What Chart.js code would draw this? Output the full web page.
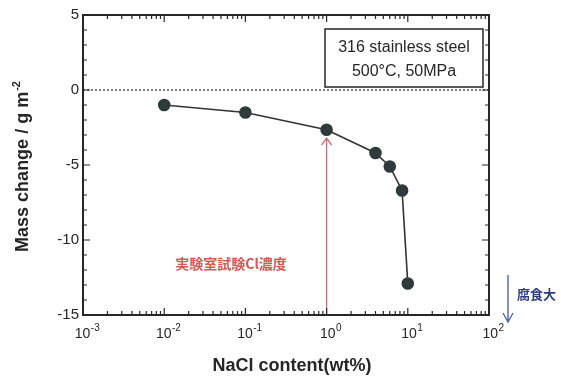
<!DOCTYPE html>
<html>
<head>
<meta charset="utf-8">
<script src="https://cdn.jsdelivr.net/npm/chart.js@4"></script>
<style>
    html, body { margin: 0; padding: 0; background: #fff; }
    #wrap { width: 561px; height: 378px; position: relative; }
</style>
</head>
<body>
<div id="wrap"><canvas id="massChart"></canvas></div>
<script>
// --- Data ---
const naclContent = [0.01, 0.1, 1, 4, 6, 8.5, 10]; // wt%
const massChange = [-1.0, -1.5, -2.65, -4.2, -5.1, -6.7, -12.9]; // g m-2
const yTickValues = [5, 0, -5, -10, -15];
const xTickExponents = [-3, -2, -1, 0, 1, 2];
const labClConc = 1; // wt%, red arrow
const labArrowTop = -3.2;

const SANS = '"Liberation Sans", Arial, sans-serif';
const CJK = '"Noto Sans CJK JP", sans-serif';
const INK = "#262626";

// --- Frame, ticks, labels and notes ---
const decorPlugin = {
    id: "decor",
    beforeDatasetsDraw(chart) {
        const { ctx, chartArea: a, scales: { x, y } } = chart;
        ctx.save();

        // dotted zero line
        ctx.strokeStyle = "#555";
        ctx.lineWidth = 1.5;
        ctx.setLineDash([2, 2]);
        ctx.beginPath();
        ctx.moveTo(a.left, y.getPixelForValue(0));
        ctx.lineTo(a.right, y.getPixelForValue(0));
        ctx.stroke();
        ctx.setLineDash([]);

        // red arrow at lab test Cl concentration
        const ax = x.getPixelForValue(labClConc);
        const atop = y.getPixelForValue(labArrowTop);
        ctx.strokeStyle = "#d26b74";
        ctx.lineWidth = 1.3;
        ctx.beginPath();
        ctx.moveTo(ax, a.bottom);
        ctx.lineTo(ax, atop);
        ctx.moveTo(ax - 5, atop + 7);
        ctx.lineTo(ax, atop);
        ctx.lineTo(ax + 5, atop + 7);
        ctx.stroke();
        ctx.restore();
    },
    afterDraw(chart) {
        const { ctx, chartArea: a, scales: { x, y } } = chart;
        ctx.save();

        // frame
        ctx.strokeStyle = INK;
        ctx.lineWidth = 2;
        ctx.strokeRect(a.left, a.top, a.right - a.left, a.bottom - a.top);

        // y ticks, both sides, inward
        ctx.lineWidth = 1.2;
        ctx.beginPath();
        for (let v = -15; v <= 5; v++) {
            const py = y.getPixelForValue(v);
            const len = v % 5 === 0 ? 7 : 4;
            ctx.moveTo(a.left, py);
            ctx.lineTo(a.left + len, py);
            ctx.moveTo(a.right, py);
            ctx.lineTo(a.right - len, py);
        }
        // x ticks, top and bottom, inward
        for (let e = -3; e < 2; e++) {
            for (let m = 1; m <= 9; m++) {
                const px = x.getPixelForValue(m * Math.pow(10, e));
                const len = m === 1 ? 7 : 4;
                ctx.moveTo(px, a.bottom);
                ctx.lineTo(px, a.bottom - len);
                ctx.moveTo(px, a.top);
                ctx.lineTo(px, a.top + len);
            }
        }
        ctx.stroke();

        // y tick labels
        ctx.fillStyle = INK;
        ctx.font = "15px " + SANS;
        ctx.textAlign = "right";
        ctx.textBaseline = "middle";
        yTickValues.forEach((v) => {
            ctx.fillText(String(v), a.left - 4, y.getPixelForValue(v));
        });

        // x tick labels: 10 with superscript exponent
        ctx.textAlign = "left";
        ctx.textBaseline = "alphabetic";
        xTickExponents.forEach((e) => {
            const px = x.getPixelForValue(Math.pow(10, e));
            ctx.font = "14px " + SANS;
            const wb = ctx.measureText("10").width;
            ctx.font = "10px " + SANS;
            const ws = ctx.measureText(String(e)).width;
            const left = px + 4 - (wb + ws) / 2;
            ctx.font = "14px " + SANS;
            ctx.fillText("10", left, a.bottom + 23);
            ctx.font = "10px " + SANS;
            ctx.fillText(String(e), left + wb + 0.5, a.bottom + 16);
        });

        // axis titles
        ctx.font = "bold 18px " + SANS;
        ctx.textAlign = "center";
        ctx.fillText("NaCl content(wt%)", (a.left + a.right) / 2 + 6, a.bottom + 56);

        ctx.save();
        ctx.translate(28, 167);
        ctx.rotate(-Math.PI / 2);
        ctx.font = "bold 18px " + SANS;
        const main = "Mass change / g m";
        const wm = ctx.measureText(main).width;
        ctx.font = "bold 11px " + SANS;
        const wsup = ctx.measureText("-2").width;
        const start = -(wm + wsup) / 2;
        ctx.textAlign = "left";
        ctx.font = "bold 18px " + SANS;
        ctx.fillText(main, start, 0);
        ctx.font = "bold 11px " + SANS;
        ctx.fillText("-2", start + wm + 1, -8);
        ctx.restore();

        // condition box
        ctx.lineWidth = 1.5;
        ctx.strokeStyle = INK;
        ctx.strokeRect(a.left + 242, a.top + 14, 158, 58);
        ctx.font = "16px " + SANS;
        ctx.textAlign = "center";
        ctx.textBaseline = "middle";
        ctx.fillText("316 stainless steel", a.left + 321, a.top + 33);
        ctx.fillText("500\u00b0C, 50MPa", a.left + 321, a.top + 57);

        // red note
        ctx.fillStyle = "#d05a56";
        ctx.font = "bold 14px " + CJK;
        ctx.textAlign = "center";
        ctx.fillText("実験室試験Cl濃度", 231, 264);

        // blue arrow and note, right of the frame
        const bx = a.right + 19;
        ctx.strokeStyle = "#5066aa";
        ctx.lineWidth = 1.4;
        ctx.beginPath();
        ctx.moveTo(bx, 275);
        ctx.lineTo(bx, 322);
        ctx.moveTo(bx - 5, 313);
        ctx.lineTo(bx, 322);
        ctx.lineTo(bx + 5, 313);
        ctx.stroke();
        ctx.fillStyle = "#2c3c7c";
        ctx.font = "bold 13px " + CJK;
        ctx.textAlign = "left";
        ctx.fillText("腐食大", bx + 9, 294);

        ctx.restore();
    },
};

const points = naclContent.map((v, i) => ({ x: v, y: massChange[i] }));

new Chart(document.getElementById("massChart").getContext("2d"), {
    type: "scatter",
    data: {
        datasets: [
            {
                data: points,
                showLine: true,
                borderColor: "#333",
                borderWidth: 1.6,
                pointRadius: 5.5,
                pointBackgroundColor: "#2f3b3b",
                pointBorderColor: "#2f3b3b",
            },
        ],
    },
    options: {
        responsive: true,
        maintainAspectRatio: false,
        animation: false,
        layout: { padding: { left: 83, right: 72, top: 15, bottom: 63 } },
        plugins: { legend: { display: false }, tooltip: { enabled: false } },
        scales: {
            x: { type: "logarithmic", min: 0.001, max: 100, display: false },
            y: { type: "linear", min: -15, max: 5, display: false },
        },
    },
    plugins: [decorPlugin],
});
</script>
</body>
</html>
